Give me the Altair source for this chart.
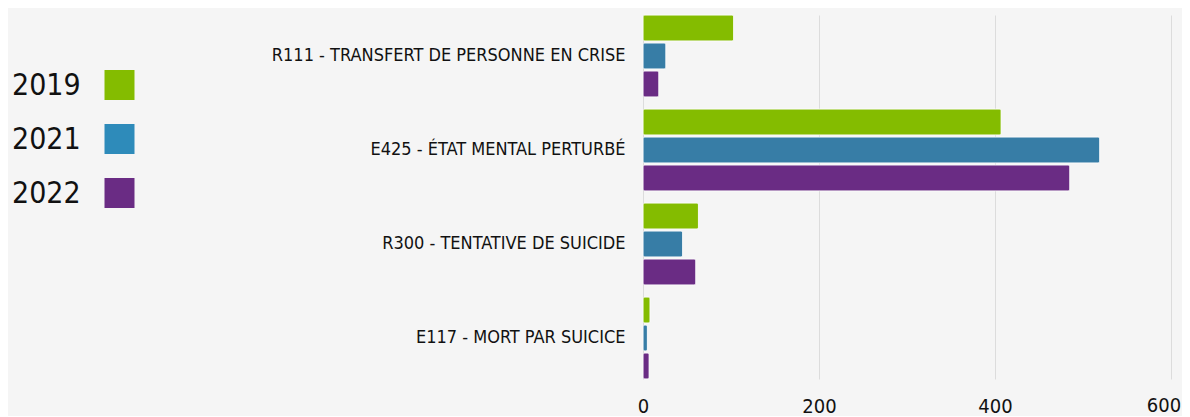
import altair as alt
import pandas as pd

categories = [
    "R111 - TRANSFERT DE PERSONNE EN CRISE",
    "E425 - ÉTAT MENTAL PERTURBÉ",
    "R300 - TENTATIVE DE SUICIDE",
    "E117 - MORT PAR SUICICE",
]
years = ["2019", "2021", "2022"]
values_2019 = [103, 407, 63, 8]
values_2021 = [26, 519, 45, 5]
values_2022 = [18, 485, 60, 7]
bar_colors = ["#84BC00", "#377DA6", "#6A2C84"]
legend_colors = ["#84BC00", "#2E8BBA", "#6A2C84"]
x_ticks = [0, 200, 400, 600]

rows = []
for cat, a, b, c in zip(categories, values_2019, values_2021, values_2022):
    for yr, v in zip(years, [a, b, c]):
        rows.append({"category": cat, "year": yr, "value": v})
df = pd.DataFrame(rows)

FONT = "DejaVu Sans Condensed"
PLOT_W, PLOT_H = 528, 364
last_tick = x_ticks[-1]

xscale = alt.Scale(domain=[x_ticks[0], last_tick], nice=False)

bars = alt.Chart(df).mark_bar(cornerRadius=2, stroke="white", strokeWidth=0.6).encode(
    x=alt.X(
        "value:Q",
        scale=xscale,
        axis=alt.Axis(values=x_ticks, title=None, grid=True, gridColor="#dcdcdc",
                      domain=False, ticks=False, labelPadding=17, labelFontSize=20,
                      labelFont=FONT, labelColor="#111", labelFlush=False,
                      labelOverlap=False,
                      labelExpr=f"datum.value == {last_tick} ? '' : datum.label"),
    ),
    y=alt.Y(
        "category:N", sort=categories,
        scale=alt.Scale(paddingInner=0.128, paddingOuter=0),
        axis=alt.Axis(title=None, domain=False, ticks=False, labelPadding=18,
                      labelFontSize=18, labelFont=FONT, labelColor="#111",
                      minExtent=435, maxExtent=435, labelLimit=0),
    ),
    yOffset=alt.YOffset("year:N", sort=years, scale=alt.Scale(paddingInner=0.07)),
    color=alt.Color("year:N", scale=alt.Scale(domain=years, range=bar_colors), legend=None),
)

# last tick label drawn as text, nudged left so it stays inside the window
last_df = pd.DataFrame({"tick": [last_tick]})
last_label = alt.Chart(last_df).mark_text(
    align="center", baseline="top", fontSize=20, font=FONT, color="#111", dx=-7
).encode(
    x=alt.X("tick:Q", scale=xscale),
    y=alt.value(PLOT_H + 17),
    text=alt.Text("tick:Q"),
)

main = alt.layer(bars, last_label).properties(width=PLOT_W, height=PLOT_H)

leg_df = pd.DataFrame({"year": years, "color": legend_colors})
ly = alt.Y("year:N", sort=years, scale=alt.Scale(type="point", range=[70, 178], padding=0), axis=None)

leg_text = alt.Chart(leg_df).mark_text(
    align="left", baseline="middle", fontSize=30, font=FONT, color="#111", dy=1
).encode(x=alt.value(4), y=ly, text="year:N")

leg_sq = alt.Chart(leg_df).mark_square(size=900, opacity=1).encode(
    x=alt.value(111.5), y=ly, color=alt.Color("color:N", scale=None)
)

legend = alt.layer(leg_text, leg_sq).properties(width=200, height=PLOT_H)

chart = alt.hconcat(legend, main, spacing=0).properties(
    padding={"left": 0, "top": 6, "right": 0, "bottom": 0},
    background="#f5f5f5",
).configure_view(stroke=None)

chart.save("out.html", embed_options={"renderer": "svg", "actions": False})
